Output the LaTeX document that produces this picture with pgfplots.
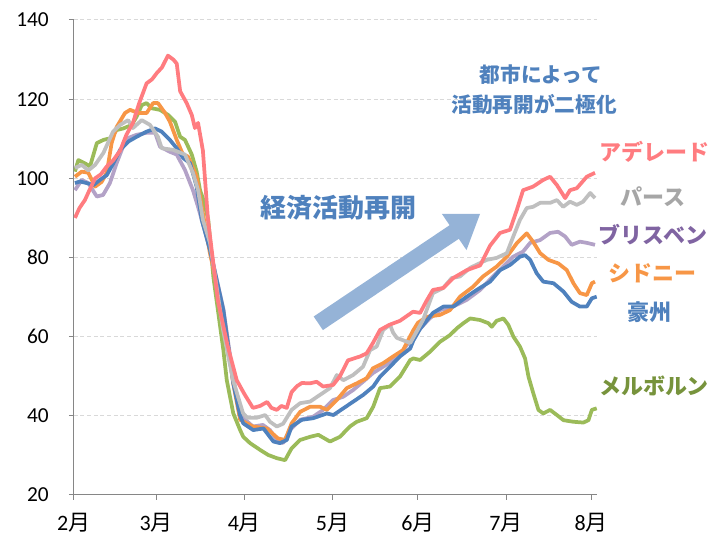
\documentclass[border=0pt]{standalone}
\usepackage{fontspec}
\setmainfont{Carlito}
\newfontfamily\jp{Noto Sans CJK JP}
\usepackage{pgfplots}
\usepackage{pgfplotstable}
\pgfplotsset{compat=1.18}
\definecolor{cpink}{HTML}{FF7C80}
\definecolor{cgray}{HTML}{BFBFBF}
\definecolor{cgraytxt}{HTML}{A6A6A6}
\definecolor{cpurple}{HTML}{B3A2C7}
\definecolor{cpurpletxt}{HTML}{8064A2}
\definecolor{corange}{HTML}{F79646}
\definecolor{cblue}{HTML}{4F81BD}
\definecolor{cgreen}{HTML}{9BBB59}
\definecolor{cgreentxt}{HTML}{77933C}
\definecolor{carrow}{HTML}{95B3D7}
\definecolor{caxis}{HTML}{868686}
\definecolor{cgrid}{HTML}{D9D9D9}

\pgfplotstableread{
d v
0.4 90
2 92.5
3.9 94.5
5.5 97
7.5 100
9.5 101
11.6 103
13.8 104.5
16.3 107
18.5 111
20.8 114
23 119
25.6 124
27.5 125
29.2 126.6
31 128
33.1 131
35 130
36.2 129
37.4 122
39.7 119
41.5 116
42.6 112.7
43.7 114
45.4 107
47.2 89.5
50.7 69
54 58
57.3 49
60 45.5
63 42
65.5 42.5
68 43.5
69.5 42
71.4 41.5
73 42.5
74.9 42
76.6 46
78.5 47.5
80.2 48.3
83 48.2
85.4 48.6
87.7 47.4
91.2 47.8
93.6 50
96.4 54
98.5 54.5
100.7 55
103 55.8
105.2 58.4
107.7 61.7
111 63
114.7 64
119.3 66.3
121.8 66
124 69
126.3 71.8
129.9 72.3
133.4 74.8
138.2 76.8
142.9 78
146.4 83
149.9 86.2
153.4 87
155.8 92
158 97
161.5 97.9
165.1 99.6
167.5 100.4
169.9 98.3
172.8 95
174.5 97
176.9 97.5
180.4 100.4
183.3 101.4
}\adelaide

\pgfplotstableread{
d v
0.4 102.6
2.8 103.4
5.1 102
7.5 103.4
10.4 106.4
13.8 111.8
16.3 113.5
19.1 114.7
20.8 112.7
23.9 114.7
26.8 113.5
29.6 110.5
30.9 107.6
34.9 107.2
39.1 106
41.9 101.4
43.7 97
45.4 89.5
47.9 83.7
52.5 61.7
56 49
59.5 40.7
61 39.5
64.3 39.5
67.3 40.2
69 38.5
71.4 37.3
73.6 38
76.6 41.5
79.6 43.2
83.1 43.6
86.6 45.3
90.1 47
92.5 50.3
94.8 49
98.2 50.3
101.7 52.4
104.2 56.6
106.5 57.5
108.8 61.7
111.2 63
112.3 61
113.6 59.7
118.3 58.4
120.6 61.3
122.8 64.2
126.3 71
129.9 72.3
132.9 74.8
135.8 75.2
139.4 77.4
142.9 78.6
145.2 79.4
148.7 79.9
152.3 81.1
154.5 85.2
156.9 89.5
159.3 92.5
161.5 92.8
164 93.8
167.5 93.8
169.9 94.5
172.1 92.8
174.5 94.1
176.9 93.3
179.1 94.1
181.6 96.3
183.3 95
}\perth

\pgfplotstableread{
d v
0.4 97
2.8 99.6
5.1 98.8
8.1 95.4
10.3 95.8
12.7 98.8
15.1 103.9
17.3 108
19.1 110.2
22.1 111
25.6 111.5
28.6 111.5
30.3 108
33.8 106.7
36.2 106
39.1 102.1
41.9 97
43.7 92.8
45 89.5
47.9 82
52.6 67
56.1 49.5
58.5 41
59.5 39.5
63 37.3
66.5 37.7
69 36.4
71.4 33.9
73.6 33.1
76 36.4
79.6 39
84.2 39.8
87.7 41.5
91.2 44
94.7 44.8
98.2 46.5
101.7 48.6
105.2 50.8
108.8 52.4
112.3 54
115.8 56.6
119.3 60
121.8 62
125 64.5
128.8 66.7
133.4 67.6
138.2 69.3
142.9 71.8
147.4 75.2
151 77.7
154.5 80.2
158 81.5
160.5 83.7
164 84.4
167.5 86.2
170.3 86.5
172.8 85.3
175.1 83.2
178 84
180.4 83.7
183.3 83.2
}\brisbane

\pgfplotstableread{
d v
0.4 100.4
2.8 101.7
5.1 101.4
7.5 97.9
9.8 99.1
11.6 101.4
13.3 108.9
15.1 113
18 116.5
19.8 117.3
22.6 116.5
25.6 116.5
27.9 119
29.6 119
32.1 116.5
33.8 114.3
36.2 109.7
38.4 106
40.2 105.5
43.2 100.4
45 92.8
47.9 81
52.6 66
56.1 48
58.5 39
63 37.3
67.9 36.8
71.8 34.3
74.3 33.9
76.6 38.1
79.6 41
83.1 42.3
86.6 42.3
89 41.5
92.5 44
96 47
99.5 48.2
103 49.5
105.2 52
108.8 53.3
112.3 55
115.8 56.6
119.3 61.5
121 63.5
124.1 65
128.8 65.5
132.3 66.7
135.8 70.1
140.4 72.6
143.9 75.2
148.7 77.7
152.3 80.2
155.8 83.6
159.3 86.1
161.5 84
164 81.1
166.9 79.4
170.4 78.5
173.4 76.8
175.7 73.5
178 71
180.4 70.5
182.2 73.5
183.3 73.9
}\sydney

\pgfplotstableread{
d v
0.4 98.8
2.2 99.2
4.5 98.8
6.9 98.3
9.2 99.6
11.6 100.8
13.9 103.8
16.3 107.2
19.2 109.3
22.1 110.5
25.6 111.8
28.6 112.6
30.9 111.8
33.8 109.7
36.2 107.6
38.5 105.1
40.9 103.8
43.2 97.9
45 89.5
47.9 81.9
52.6 66.7
56.1 48.2
58.5 40
59.6 38.1
63.1 36.4
66.7 36.8
70.2 33.5
72.5 33.1
74.9 33.9
76.6 37.3
80.2 39
84.2 39.4
89 40.6
91.3 40.2
94.8 41.9
98.3 43.6
101.8 45.3
105.3 47.4
107.7 49.9
111.2 52.4
114.7 55
118.3 57
119.4 59
121.8 62
126.3 66
130 67.6
133.5 67.6
138.2 70.1
141.7 71.8
146.4 73.9
149.9 76.8
153.4 78.1
156.9 80.2
158.7 80.6
160.5 79.4
162.8 76
165.1 73.9
168.7 73.5
172.2 71.4
175.1 68.8
178 67.6
180.4 67.6
182.2 69.7
183.9 70.1
}\australia

\pgfplotstableread{
d v
0.4 101.7
1.6 104.6
3.9 103.8
5.7 103
8.1 108.9
10.4 109.7
12.7 110.1
15.1 112.2
17.4 112.6
20.4 113.5
22.1 115.6
23.9 118.5
25.6 119
27.4 117.7
30.3 117.3
33.2 116
35.6 114.3
37.4 110.5
39.1 109.7
41.5 106
43.2 101.7
44.4 97
45.6 94.5
47.3 89.5
49.1 75
52.6 56.6
53.8 49
56.1 40.6
58.5 36.4
59.6 34.7
62 33.1
65.5 31.4
68.4 30.1
71.4 29.3
74.3 28.8
76.6 31.8
79.6 33.9
83.1 34.7
86 35.2
90.1 33.5
93.6 34.7
97.1 37.3
99.5 38.5
103 39.4
105.3 42.3
107.7 47
111.2 47.4
114.7 49.9
118.3 54.1
119.4 54.5
121.8 54.1
125.3 56.2
128.8 58.7
132.3 60.4
134.7 62.1
137 63.4
139.4 64.6
142.9 64.2
145.8 63.4
147 62.5
148.7 64
151.1 64.6
152.8 63
154.6 60
156.9 57.5
158.7 54.5
159.9 49.9
161.6 45.7
163.4 41.5
165.1 40.6
167.5 41.5
169.9 40.2
172.2 38.9
175.7 38.5
179.2 38.3
181 38.9
182.2 41.5
183.9 41.9
}\melbourne

\begin{document}
\begin{tikzpicture}
\path[use as bounding box] (0pt,0pt) rectangle (540.75pt,400.5pt);
\begin{axis}[
  at={(55.35pt,29.25pt)}, anchor=south west,
  scale only axis, width=392.4pt, height=356.25pt,
  xmin=0, xmax=184, ymin=20, ymax=140,
  axis lines=left,
  axis line style={-, color=caxis, line width=0.75pt},
  xtick={0,29,60,91,121,152,182},
  xticklabels={2{\jp 月},3{\jp 月},4{\jp 月},5{\jp 月},6{\jp 月},7{\jp 月},8{\jp 月}},
  ytick={20,40,60,80,100,120,140},
  ymajorgrids,
  major grid style={color=cgrid, line width=0.75pt, dash pattern=on 3pt off 2pt},
  tick align=outside,
  major tick length=3.75pt,
  tick style={color=caxis, line width=0.75pt},
  /pgf/number format/assume math mode=true,
  tick label style={text=black},
  yticklabel style={font=\fontsize{16}{19}\selectfont, xshift=-11.5pt},
  xticklabel style={font=\fontsize{16.5}{19}\selectfont, yshift=-6pt},
  every axis plot/.append style={line width=2.8pt, line join=round, no markers},
]
\addplot[cgreen] table[x=d,y=v] {\melbourne};
\addplot[cpurple] table[x=d,y=v] {\brisbane};
\addplot[corange] table[x=d,y=v] {\sydney};
\addplot[cblue] table[x=d,y=v] {\australia};
\addplot[cgray] table[x=d,y=v] {\perth};
\addplot[cpink] table[x=d,y=v] {\adelaide};
\end{axis}
\begin{scope}[x=0.75pt, y=-0.75pt, shift={(0pt,400.5pt)}]
\fill[carrow] (313.7,316.5) -- (449.6,225.2) -- (441.9,213.9) -- (480,214) -- (466.5,250.1) -- (458.8,238.8) -- (322.9,330.1) -- cycle;
\node[text=cblue, font=\jp\bfseries\fontsize{19.5}{22}\selectfont] at (338,208) {経済活動再開};
\node[text=cblue, font=\jp\bfseries\fontsize{15.5}{18}\selectfont, align=center] at (541,75) {都市によって};
\node[text=cblue, font=\jp\bfseries\fontsize{15.5}{18}\selectfont, align=center] at (534,105) {活動再開が二極化};
\node[text=cpink, font=\jp\bfseries\fontsize{16.5}{19}\selectfont] at (654,152) {アデレード};
\node[text=cgraytxt, font=\jp\bfseries\fontsize{16.5}{19}\selectfont] at (653,196.5) {パース};
\node[text=cpurpletxt, font=\jp\bfseries\fontsize{16.5}{19}\selectfont] at (653,235) {ブリスベン};
\node[text=corange, font=\jp\bfseries\fontsize{16.5}{19}\selectfont] at (652,273) {シドニー};
\node[text=cblue, font=\jp\bfseries\fontsize{16.5}{19}\selectfont] at (649,312) {豪州};
\node[text=cgreentxt, font=\jp\bfseries\fontsize{16.5}{19}\selectfont] at (654,386) {メルボルン};
\end{scope}
\end{tikzpicture}
\end{document}
